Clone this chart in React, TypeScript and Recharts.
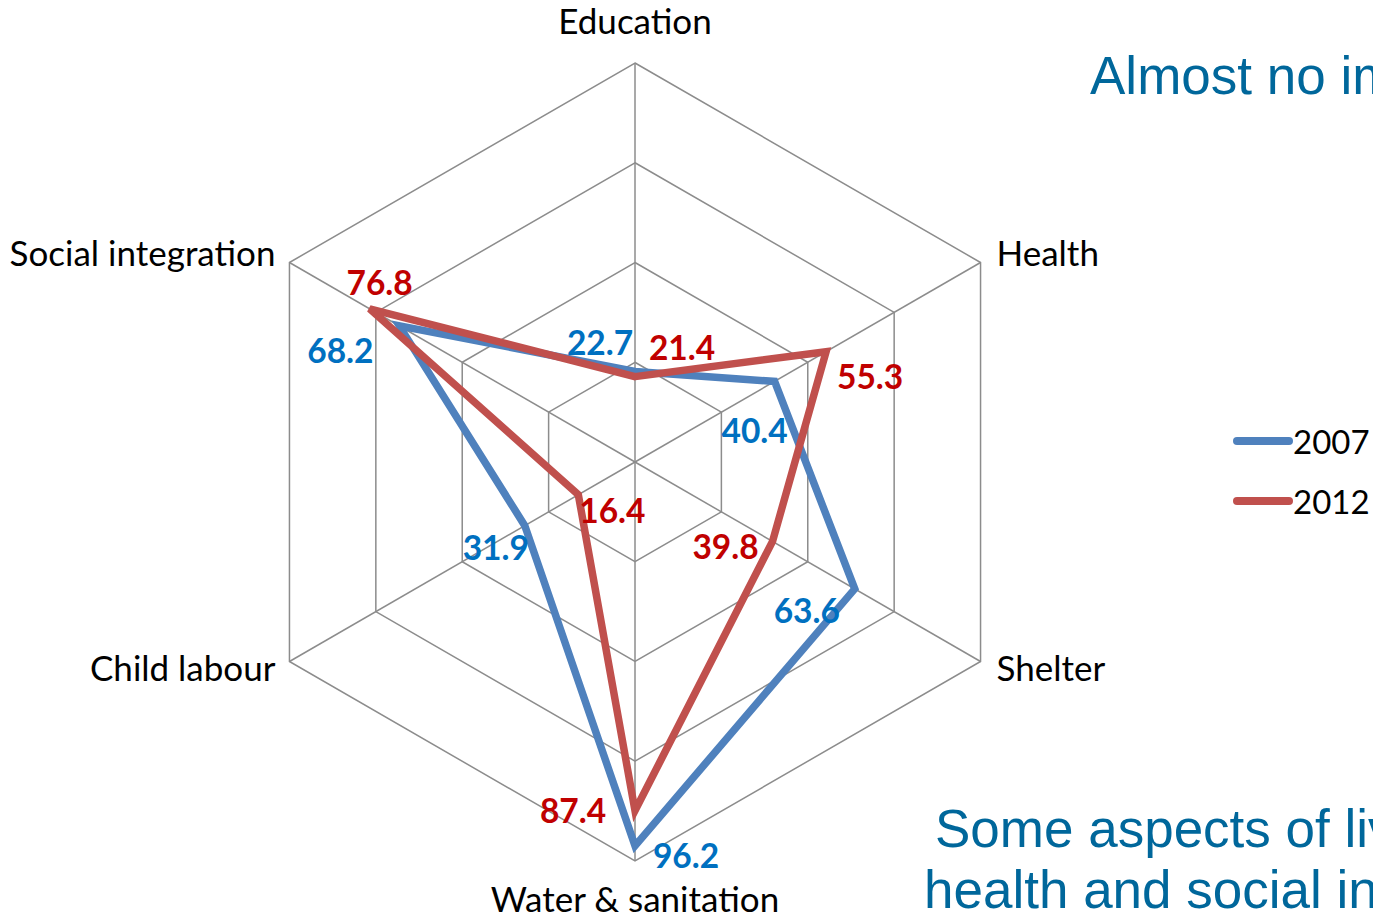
import React from 'react';
import { RadarChart, Radar, PolarGrid, PolarAngleAxis, PolarRadiusAxis, Legend } from 'recharts';

// chart data
const categories = ['Education', 'Health', 'Shelter', 'Water & sanitation', 'Child labour', 'Social integration'];
const values2007 = [22.7, 40.4, 63.6, 96.2, 31.9, 68.2];
const values2012 = [21.4, 55.3, 39.8, 87.4, 16.4, 76.8];
const seriesNames = ['2007', '2012'];

const data = categories.map((c, i) => ({ category: c, y2007: values2007[i], y2012: values2012[i] }));

const W = 1373;
const H = 917;
const CX = 635;
const CY = 462;
const R = 399;

const BLUE = '#4F81BD';
const RED = '#C0504D';
const BLUE_TEXT = '#0070C0';
const RED_TEXT = '#C00000';
const TITLE = '#00679B';

// where each axis caption sits relative to its outer vertex
const axisLabelPlacement = [
    { anchor: 'middle', dx: 0, dy: -29 },
    { anchor: 'start', dx: 16, dy: 3 },
    { anchor: 'start', dx: 16, dy: 19 },
    { anchor: 'middle', dx: 0, dy: 51 },
    { anchor: 'end', dx: -14, dy: 19 },
    { anchor: 'end', dx: -14, dy: 3 },
];

// data label nudges (text centre relative to the point)
const labelOffset2007 = [[-35, -29], [-20, 49], [-48, 21], [51, 9], [-29, 21], [-59, 24]];
const labelOffset2012 = [[47, -30], [44, 24], [-47, 5], [-62, -1], [34, 15], [10, -27]];

function AngleTick(props: any) {
    const { payload, index } = props;
    const i = typeof index === 'number' ? index : categories.indexOf(payload.value);
    const p = axisLabelPlacement[i] || axisLabelPlacement[0];
    const a = (payload.coordinate * Math.PI) / 180;
    const vx = CX + R * Math.cos(a);
    const vy = CY - R * Math.sin(a);
    return (
        <text
            x={vx + p.dx}
            y={vy + p.dy}
            textAnchor={p.anchor}
            fontFamily="Lato, sans-serif"
            fontSize={35}
            fill="#000"
        >
            {payload.value}
        </text>
    );
}

function makeValueLabel(offsets: number[][], color: string) {
    return (props: any) => {
        const { cx, cy, index, value, payload } = props;
        const v = Array.isArray(value) ? value[1] : value ?? payload?.value;
        const o = offsets[index] || [0, 0];
        return (
            <text
                key={`lbl-${color}-${index}`}
                x={cx + o[0]}
                y={cy + o[1]}
                textAnchor="middle"
                dominantBaseline="central"
                fontFamily="Lato, sans-serif"
                fontWeight={700}
                fontSize={33.5}
                fill={color}
            >
                {Number(v).toFixed(1)}
            </text>
        );
    };
}

function LegendContent() {
    const colors = [BLUE, RED];
    return (
        <svg width={140} height={100}>
            {seriesNames.map((name, i) => (
                <g key={name}>
                    <line x1={8} x2={60} y1={21 + i * 60} y2={21 + i * 60} stroke={colors[i]} strokeWidth={8} strokeLinecap="round" />
                    <text x={64} y={21 + i * 60} dominantBaseline="central" fontFamily="Lato, sans-serif" fontSize={33} fill="#000">
                        {name}
                    </text>
                </g>
            ))}
        </svg>
    );
}

export default function App() {
    return (
        <div style={{ position: 'absolute', left: 0, top: 0, width: W, height: H, overflow: 'hidden', background: '#fff' }}>
            <RadarChart
                width={W}
                height={H}
                data={data}
                cx={CX}
                cy={CY}
                outerRadius={R}
                margin={{ top: 0, right: 0, bottom: 0, left: 0 }}
            >
                <PolarGrid gridType="polygon" stroke="#8c8c8c" strokeWidth={1.5} />
                <PolarRadiusAxis domain={[0, 100]} tickCount={5} tick={false} axisLine={false} />
                <PolarAngleAxis dataKey="category" tick={<AngleTick />} tickLine={false} axisLine={false} />
                <Radar
                    name={seriesNames[0]}
                    dataKey="y2007"
                    stroke={BLUE}
                    strokeWidth={7.5}
                    fill="none"
                    fillOpacity={0}
                    dot={makeValueLabel(labelOffset2007, BLUE_TEXT)}
                    isAnimationActive={false}
                />
                <Radar
                    name={seriesNames[1]}
                    dataKey="y2012"
                    stroke={RED}
                    strokeWidth={7.5}
                    fill="none"
                    fillOpacity={0}
                    dot={makeValueLabel(labelOffset2012, RED_TEXT)}
                    isAnimationActive={false}
                />
                <Legend
                    content={<LegendContent />}
                    wrapperStyle={{ position: 'absolute', left: 1229, top: 420, width: 144, height: 100 }}
                />
            </RadarChart>
            <svg width={W} height={H} style={{ position: 'absolute', left: 0, top: 0, pointerEvents: 'none' }}>
                <g fontFamily="'Liberation Sans', Arial, sans-serif" fontSize={53} fill={TITLE}>
                    <text x={1090} y={94}>Almost no improvement</text>
                    <text x={935} y={847}>Some aspects of living conditions</text>
                    <text x={924} y={908}>health and social integration</text>
                </g>
            </svg>
        </div>
    );
}
